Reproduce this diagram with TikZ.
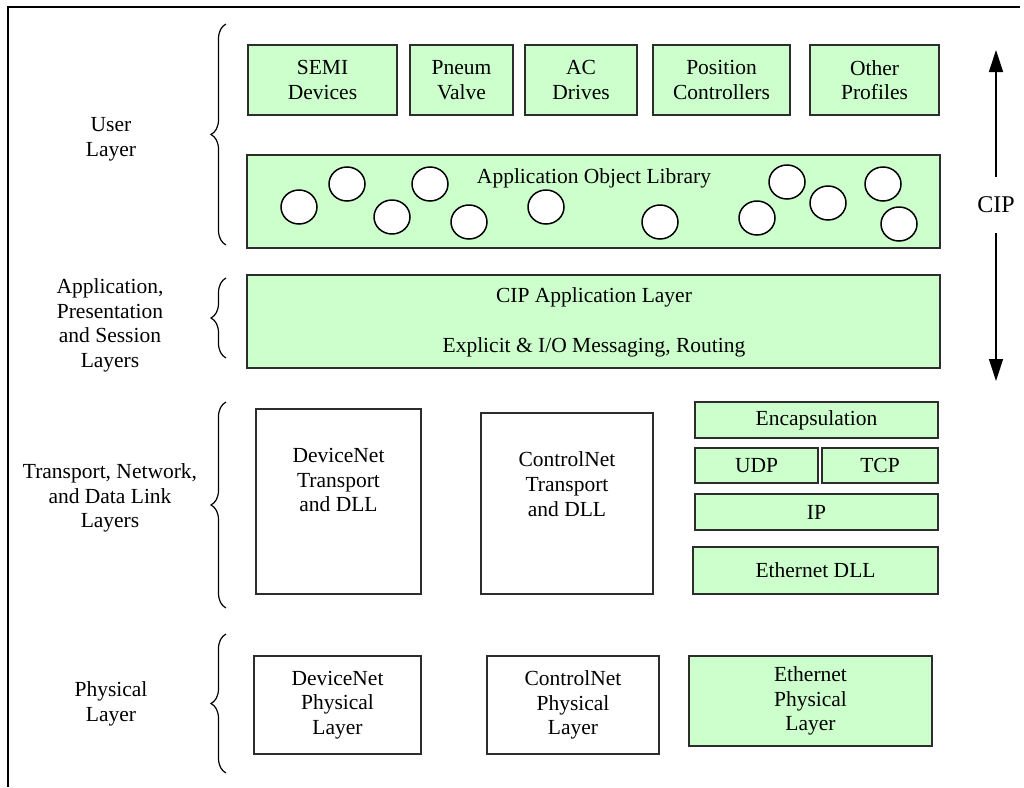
\documentclass[tikz,border=0pt]{standalone}
\usepackage{fontspec}
\setmainfont{Liberation Serif}
\usetikzlibrary{shapes.geometric,arrows.meta,decorations.pathreplacing}
\definecolor{boxgreen}{RGB}{204,255,204}
\definecolor{edge}{RGB}{45,45,45}
\tikzset{
  txt/.style={align=center,font=\fontsize{21.5pt}{24.7pt}\selectfont,inner sep=0pt},
  gbox/.style={draw=edge,line width=1.5pt,fill=boxgreen,txt,inner sep=0pt},
  wbox/.style={draw=edge,line width=1.5pt,fill=white,txt,inner sep=0pt},
  circ/.style={ellipse,draw=black,line width=1.5pt,fill=white,minimum width=36pt,minimum height=34pt,inner sep=0pt},
  brc/.style={decorate,decoration={brace,amplitude=15pt},line width=1.2pt},
  arr/.style={line width=1.3pt,-{Triangle[width=14pt,length=22pt]}}
}
\begin{document}
\begin{tikzpicture}[x=1pt,y=-1pt]
\useasboundingbox (0,0) rectangle (1024,787);
% frame
\draw[line width=1.6pt] (8,787) -- (8,7) -- (1020,7);

% top row
\node[gbox,minimum width=149,minimum height=70] (semi) at (322.5,80) {SEMI\\Devices};
\node[gbox,minimum width=103,minimum height=70] (pneum) at (461.5,80) {Pneum\\Valve};
\node[gbox,minimum width=112,minimum height=70] (ac) at (581,80) {AC\\Drives};
\node[gbox,minimum width=137,minimum height=70] (pos) at (721.5,80) {Position\\Controllers};
\node[gbox,minimum width=129,minimum height=70] (other) at (874.5,80) {Other\\Profiles};

% application object library
\node[gbox,minimum width=693,minimum height=93] (aol) at (593.5,201.5) {};
\node[txt] (aolt) at (594,178) {Application Object Library};
\node[circ] (c1) at (299,207) {};
\node[circ] (c2) at (347,184) {};
\node[circ] (c3) at (392,217) {};
\node[circ] (c4) at (430,184) {};
\node[circ] (c5) at (469,222) {};
\node[circ] (c6) at (546,207) {};
\node[circ] (c7) at (660,222) {};
\node[circ] (c8) at (757,218) {};
\node[circ] (c9) at (787,182) {};
\node[circ] (c10) at (828,203) {};
\node[circ] (c11) at (883,184) {};
\node[circ] (c12) at (899,224) {};

% CIP application layer
\node[gbox,minimum width=693,minimum height=93] (cipapp) at (593.5,321.5) {};
\node[txt] (cipappt) at (594,297) {CIP Application Layer};
\node[txt] (cipmsg) at (594,347) {Explicit \& I/O Messaging, Routing};

% transport row
\node[wbox,minimum width=165,minimum height=185] (dnt) at (338.5,501.5) {};
\node[txt] (dntt) at (338.5,480) {DeviceNet\\Transport\\and DLL};
\node[wbox,minimum width=172,minimum height=181] (cnt) at (567,503.5) {};
\node[txt] (cntt) at (567,484) {ControlNet\\Transport\\and DLL};
\node[gbox,minimum width=243,minimum height=36] (enc) at (816.5,420) {Encapsulation};
\node[gbox,minimum width=123,minimum height=35] (udp) at (756.5,465.5) {UDP};
\node[gbox,minimum width=116,minimum height=35] (tcp) at (880,465.5) {TCP};
\node[gbox,minimum width=243,minimum height=36] (ip) at (816.5,512) {IP};
\node[gbox,minimum width=245,minimum height=47] (edll) at (815.5,570.5) {Ethernet DLL};

% physical row
\node[wbox,minimum width=167,minimum height=98] (dnp) at (337.5,705) {DeviceNet\\Physical\\Layer};
\node[wbox,minimum width=172,minimum height=98] (cnp) at (573,705) {ControlNet\\Physical\\Layer};
\node[gbox,minimum width=243,minimum height=90] (enp) at (810.5,701) {Ethernet\\Physical\\Layer};

% CIP arrow
\node[txt,font=\fontsize{24pt}{28pt}\selectfont,minimum height=56pt] (cip) at (996,205) {CIP};
\coordinate (ciptop) at (996,50);
\coordinate (cipbot) at (996,381);
\draw[arr] (cip) -- (ciptop);
\draw[arr] (cip) -- (cipbot);

% left labels and braces
\node[txt] (luser) at (111,139) {User\\Layer};
\node[txt] (lapp) at (110,325.5) {Application,\\Presentation\\and Session\\Layers};
\node[txt] (ltrans) at (110,498) {Transport, Network,\\and Data Link\\Layers};
\node[txt] (lphys) at (111,704) {Physical\\Layer};
\draw[brc] (226,245) -- (226,24);
\draw[brc] (226,358) -- (226,278);
\draw[brc] (226,608) -- (226,402);
\draw[brc] (226,773) -- (226,634);
\end{tikzpicture}
\end{document}
